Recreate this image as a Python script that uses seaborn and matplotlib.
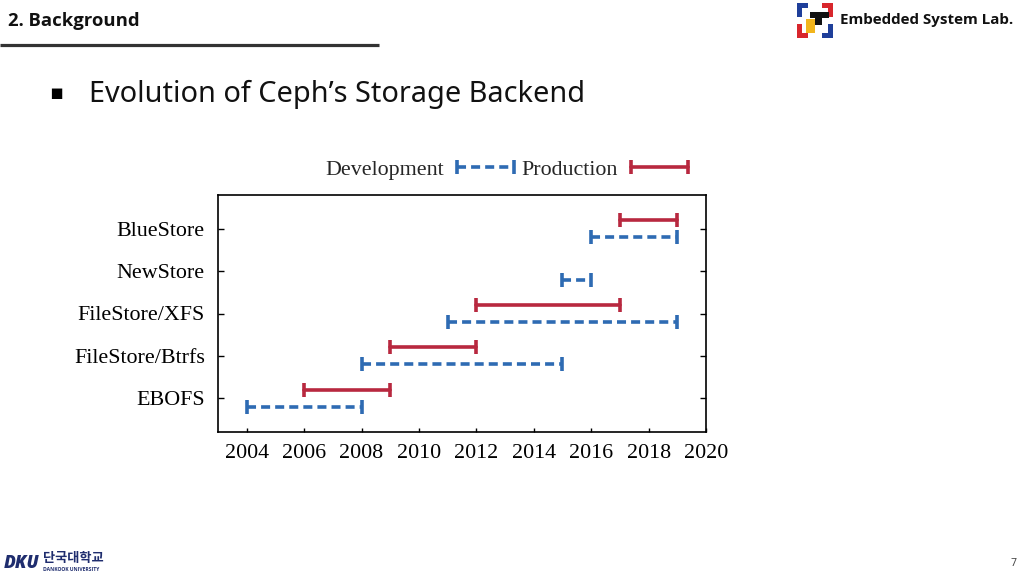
import numpy as np
import pandas as pd
import matplotlib
matplotlib.use("Agg")
import matplotlib.pyplot as plt
import seaborn as sns
from matplotlib.patches import Rectangle

# ---------------- data ----------------
stores = ["EBOFS", "FileStore/Btrfs", "FileStore/XFS", "NewStore", "BlueStore"]
dev_start = [2004, 2008, 2011, 2015, 2016]
dev_end = [2008, 2015, 2019, 2016, 2019]
prod_start = [2006, 2009, 2012, None, 2017]
prod_end = [2009, 2012, 2017, None, 2019]
year_ticks = [2004, 2006, 2008, 2010, 2012, 2014, 2016, 2018, 2020]
kinds = ["Development", "Production"]

colors = {"Development": "#2e6bb3", "Production": "#b8283f"}

rows = []
seg = 0
for i, name in enumerate(stores):
    for kind, starts, ends, off in (("Development", dev_start, dev_end, -0.2),
                                    ("Production", prod_start, prod_end, 0.2)):
        s, e = starts[i], ends[i]
        if s is None:
            continue
        for yr in (s, e):
            rows.append(dict(year=yr, pos=i + off, kind=kind, seg=seg))
        seg += 1
df = pd.DataFrame(rows)

# ---------------- style ----------------
sns.set_theme(style="ticks")
plt.rcParams["font.family"] = ["Liberation Serif", "DejaVu Serif"]

fig = plt.figure(figsize=(10.24, 5.76), dpi=100)
fig.patch.set_facecolor("white")

ax = fig.add_axes([218 / 1024, 1 - 432 / 576, 488 / 1024, 237 / 576])
sns.lineplot(data=df, x="year", y="pos", hue="kind", style="kind", units="seg",
             estimator=None, sort=False, palette=colors,
             dashes={"Development": (2.5, 1.4), "Production": ""},
             markers={"Development": "|", "Production": "|"},
             linewidth=2.6, markersize=10, markeredgewidth=2.6,
             legend=False, ax=ax)

handles = {}
for line in ax.lines:
    c = line.get_color()
    line.set_markeredgecolor(c)
    line.set_markerfacecolor(c)
    for k, col in colors.items():
        if matplotlib.colors.same_color(c, col) and k not in handles:
            handles[k] = line

ax.set_xlim(2003, 2020)
ax.set_ylim(-0.8, 4.8)
ax.set_xticks(year_ticks)
ax.set_xticklabels([str(y) for y in year_ticks])
ax.set_yticks(range(len(stores)))
ax.set_yticklabels(stores)
ax.set_xlabel("")
ax.set_ylabel("")
ax.tick_params(axis="y", direction="in", length=4, width=1, left=True, right=True,
               labelsize=15.8, pad=9.5, colors="black")
ax.tick_params(axis="x", direction="in", length=3, width=1, bottom=True, top=False,
               labelsize=15.8, pad=9, colors="black")
for sp in ax.spines.values():
    sp.set_visible(True)
    sp.set_color("black")
    sp.set_linewidth(1.2)

ax.legend([handles[k] for k in kinds], kinds, ncol=2, markerfirst=False, frameon=False,
          loc="center", bbox_to_anchor=(0.598, 1.107), handlelength=3.2,
          handletextpad=0.3, columnspacing=0.05, numpoints=2, fontsize=15.8,
          borderaxespad=0, borderpad=0)

# ---------------- slide decorations ----------------
ov = fig.add_axes([0, 0, 1, 1], zorder=-1)
ov.set_xlim(0, 1024)
ov.set_ylim(576, 0)
ov.axis("off")

sans = ["Noto Sans", "DejaVu Sans"]
bold_sans = ["Open Sans", "DejaVu Sans"]
ov.text(8, 21, "2. Background", fontsize=13.3, weight="bold", family=bold_sans,
        va="center", ha="left", color="#111111")
ov.plot([0, 379], [44.5, 44.5], color="#333333", lw=2.3, solid_capstyle="butt")
ov.text(56, 93, "\u25aa", fontsize=15, family=["DejaVu Sans"], va="center", ha="center",
        color="black")
ov.text(89, 94, "Evolution of Ceph\u2019s Storage Backend", fontsize=20.8, family=sans,
        va="center", ha="left", color="#111111")

# lab logo
logo = [
    (797, 3, 5, 14, "#1f3f9a"), (797, 3, 11, 5, "#1f3f9a"),
    (828, 3, 5, 14, "#d8262c"), (822, 3, 11, 5, "#d8262c"),
    (810, 12, 19, 6, "#111111"), (815, 12, 7, 13, "#111111"),
    (806, 19, 9, 14, "#f2b51c"),
    (797, 24, 5, 14, "#d8262c"), (797, 33, 11, 5, "#d8262c"),
    (828, 24, 5, 14, "#1f3f9a"), (822, 33, 11, 5, "#1f3f9a"),
]
for x, y, w, h, c in logo:
    ov.add_patch(Rectangle((x, y), w, h, color=c, lw=0))
ov.text(840, 20, "Embedded System Lab.", fontsize=10.9, weight="bold", family=bold_sans,
        va="center", ha="left", color="#111111")

# university logo
navy = "#1f2d6e"
ov.text(4, 563, "DKU", fontsize=12.5, weight="heavy", style="italic", family=bold_sans,
        va="center", ha="left", color=navy)
ov.text(43, 558, "단국대학교", fontsize=9.5, weight="bold",
        family=["Noto Sans CJK KR", "DejaVu Sans"], va="center", ha="left", color=navy)
ov.text(43, 569.5, "DANKOOK UNIVERSITY", fontsize=3.6, weight="bold", family=bold_sans,
        va="center", ha="left", color=navy)

ov.text(1016, 564, "7", fontsize=7.5, family=sans, va="center", ha="right", color="#444444")

fig.savefig("out.png", dpi=100)
